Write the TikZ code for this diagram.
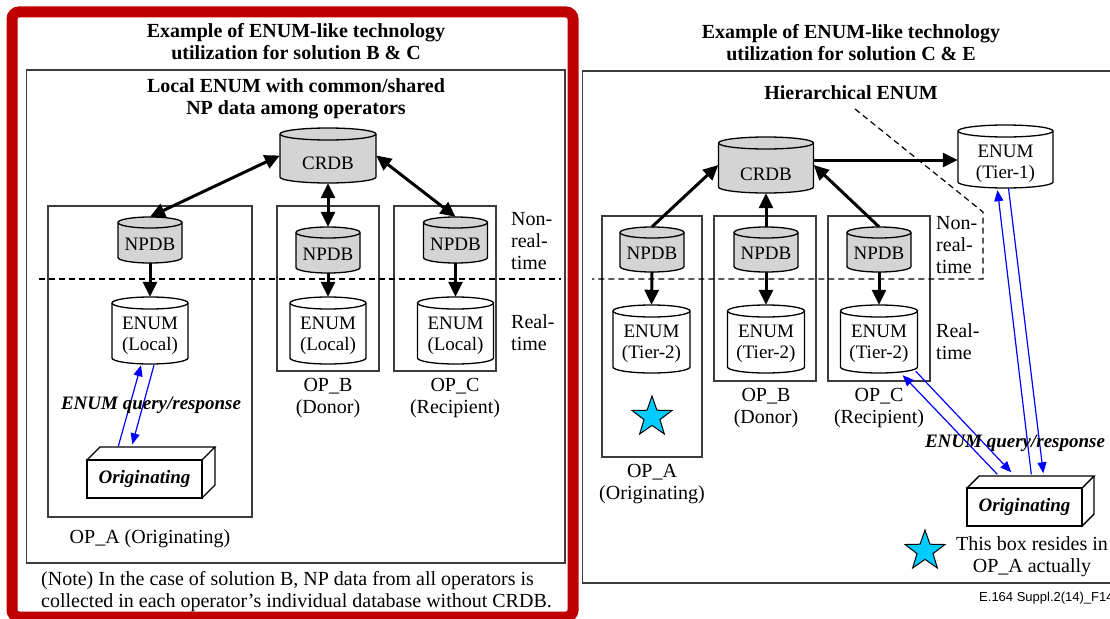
\documentclass[tikz,border=0pt]{standalone}
\usepackage{fontspec}
\setmainfont{Liberation Serif}
\newfontfamily\sansf{Liberation Sans}
\usetikzlibrary{arrows.meta,calc,shapes.geometric}
\definecolor{framered}{RGB}{192,0,0}
\definecolor{dbgray}{RGB}{212,212,212}
\definecolor{starc}{RGB}{0,204,255}
\definecolor{qblue}{RGB}{0,0,255}
\definecolor{boxgray}{RGB}{60,60,60}
\newcommand\fsn{\fontsize{20}{22}\selectfont}
\newcommand\fsc{\fontsize{19}{21}\selectfont}
\newcommand\fst{\fontsize{20}{22}\selectfont\bfseries}
\newcommand\fsq{\fontsize{19}{22}\selectfont\bfseries\itshape}
\newcommand\dbcyl[9]{%
 \pgfmathsetmacro\cL{#2-#4/2}%
 \pgfmathsetmacro\cR{#2+#4/2}%
 \pgfmathsetmacro\cRX{#4/2}%
 \pgfmathsetmacro\cT{#3+#6}%
 \pgfmathsetmacro\cB{#3+#5-#6}%
 \pgfmathsetmacro\cM{#3+#5/2}%
 \pgfmathsetmacro\cTY{#3+#5/2+#9}%
 \draw[cylline,fill=#7] (\cL,\cT) -- (\cL,\cB) arc[start angle=180,end angle=360,x radius=\cRX pt,y radius=#6pt] -- (\cR,\cT) arc[start angle=0,end angle=180,x radius=\cRX pt,y radius=#6pt] -- cycle;
 \draw[cylline] (\cL,\cT) arc[start angle=180,end angle=360,x radius=\cRX pt,y radius=#6pt];
 \node[cylhit,minimum width=#4pt,minimum height=#5pt] (#1) at (#2,\cM) {};
 \node[clbl] (#1t) at (#2,\cTY) {#8};
}
\newcommand\origbox[6]{% name x1 y1 x2 y2 d
 \draw[obox] (#2,#3) -- ({#2+#6},{#3-#6}) -- ({#4+#6},{#3-#6}) -- (#4,#3);
 \draw[obox] ({#4+#6},{#3-#6}) -- ({#4+#6},{#5-#6}) -- (#4,#5);
 \node[obox,draw,minimum width={(#4-#2)*1pt},minimum height={(#5-#3)*1pt},inner sep=0pt,font=\fsq] (#1) at ({(#2+#4)/2},{(#3+#5)/2}) {Originating};
}
\begin{document}
\begin{tikzpicture}[x=1pt,y=-1pt,
  lbl/.style={font=\fsn,align=center,inner sep=0pt},
  clbl/.style={font=\fsc,align=center,inner sep=0pt},
  ttl/.style={font=\fst,align=center,inner sep=0pt},
  qlbl/.style={font=\fsq,inner sep=0pt},
  cylline/.style={draw=black,line width=1.3pt},
  cylhit/.style={rectangle,inner sep=0pt},
  opbox/.style={draw=boxgray,line width=1.3pt},
  obox/.style={draw=black,line width=1.4pt},
  dashln/.style={draw=black,line width=1.2pt,dash pattern=on 6pt off 4pt},
  darr/.style={line width=3pt,-{Triangle[length=15pt,width=14pt]}},
  bidarr/.style={line width=3pt,{Triangle[length=15pt,width=14pt]}-{Triangle[length=15pt,width=14pt]}},
  barr/.style={draw=qblue,line width=1.2pt,-{Triangle[length=11pt,width=9pt]}},
  starn/.style={star,star points=5,star point ratio=2.5,draw=black,line width=1pt,fill=starc,minimum size=42pt,inner sep=0pt}]
\useasboundingbox (0,0) rectangle (1110,618);
\fill[white] (0,0) rectangle (1110,618);
% ================= LEFT PANEL =================
\draw[draw=framered,line width=11pt,rounded corners=7pt] (12,12) rectangle (573,617);
\node[ttl] (ltitle) at (296,42) {Example of ENUM-like technology\\utilization for solution B \& C};
\draw[opbox] (26.5,70) rectangle (565,563);
\node[ttl] (lsub) at (296,99) {Local ENUM with common/shared\\NP data among operators};
\draw[opbox] (48,206) rectangle (252,517);
\draw[opbox] (277,206) rectangle (379,371);
\draw[opbox] (394,206) rectangle (496,371);
\draw[dashln] (39,279) -- (561,279);
\dbcyl{crdbL}{328}{128}{96}{55}{6}{dbgray}{CRDB}{8}
\dbcyl{npdbLA}{150}{217}{64}{46}{5.5}{dbgray}{NPDB}{4}
\dbcyl{npdbLB}{328}{227}{64}{46}{5.5}{dbgray}{NPDB}{4}
\dbcyl{npdbLC}{455.5}{217}{64}{46}{5.5}{dbgray}{NPDB}{4}
\dbcyl{enumLA}{150}{297}{76}{67}{6}{white}{ENUM\\(Local)}{5}
\dbcyl{enumLB}{328}{297}{76}{67}{6}{white}{ENUM\\(Local)}{5}
\dbcyl{enumLC}{455.5}{297}{76}{67}{6}{white}{ENUM\\(Local)}{5}
\draw[bidarr] (crdbL.west) -- (npdbLA.north);
\draw[bidarr] (crdbL.south) -- (npdbLB.north);
\draw[bidarr] (crdbL.east) -- (npdbLC.north);
\draw[darr] (npdbLA.south) -- (enumLA.north);
\draw[darr] (npdbLB.south) -- (enumLB.north);
\draw[darr] (npdbLC.south) -- (enumLC.north);
\node[lbl,align=left,anchor=west] (nrtL) at (511,241) {Non-\\real-\\time};
\node[lbl,align=left,anchor=west] (rtL) at (511,333) {Real-\\time};
\origbox{origA}{87}{460}{202}{498}{13}
\draw[barr] ($(origA.north west)+(32,-13)$) -- ($(enumLA.south)+(-9,1)$);
\draw[barr] ($(enumLA.south)+(4,1)$) -- ($(origA.north west)+(46,-15)$);
\node[qlbl] (qL) at (151,405) {ENUM query/response};
\node[lbl] (opAL) at (150,539) {OP\_A (Originating)};
\node[lbl] (opBL) at (328,398) {OP\_B\\(Donor)};
\node[lbl] (opCL) at (455,398) {OP\_C\\(Recipient)};
\node[lbl,align=left,anchor=west] (note) at (41,592) {(Note) In the case of solution B, NP data from all operators is\\collected in each operator's individual database without CRDB.};
% ================= RIGHT PANEL =================
\node[ttl] (rtitle) at (851,43) {Example of ENUM-like technology\\utilization for solution C \& E};
\draw[opbox] (1125,71) -- (582.5,71) -- (582.5,583) -- (1125,583);
\node[ttl] (rsub) at (851,93) {Hierarchical ENUM};
\draw[opbox] (602,216) rectangle (702,457);
\draw[opbox] (714,216) rectangle (816,381);
\draw[opbox] (828,216) rectangle (930,381);
\draw[dashln] (855,109) -- (983,212) -- (983,279) -- (592,279);
\dbcyl{crdbR}{766}{137}{95}{56}{6}{dbgray}{CRDB}{9}
\dbcyl{tierone}{1005.5}{125}{95}{63}{6}{white}{ENUM\\(Tier-1)}{7}
\dbcyl{npdbRA}{652}{227}{64}{45}{5.5}{dbgray}{NPDB}{4}
\dbcyl{npdbRB}{766}{227}{64}{45}{5.5}{dbgray}{NPDB}{4}
\dbcyl{npdbRC}{879}{227}{64}{45}{5.5}{dbgray}{NPDB}{4}
\dbcyl{enumRA}{651.5}{305}{77}{68}{6}{white}{ENUM\\(Tier-2)}{5}
\dbcyl{enumRB}{766}{305}{77}{68}{6}{white}{ENUM\\(Tier-2)}{5}
\dbcyl{enumRC}{879}{305}{77}{68}{6}{white}{ENUM\\(Tier-2)}{5}
\draw[darr] (npdbRA.north) -- (crdbR.west);
\draw[darr] (npdbRB.north) -- (crdbR.south);
\draw[darr] (npdbRC.north) -- (crdbR.east);
\draw[darr] ([yshift=5pt]crdbR.east) -- ([yshift=5pt]crdbR.east -| tierone.west);
\draw[darr] (npdbRA.south) -- (enumRA.north);
\draw[darr] (npdbRB.south) -- (enumRB.north);
\draw[darr] (npdbRC.south) -- (enumRC.north);
\node[lbl,align=left,anchor=west] (nrtR) at (936,245) {Non-\\real-\\time};
\node[lbl,align=left,anchor=west] (rtR) at (936,342) {Real-\\time};
\node[starn] (star1) at (652,417) {};
\node[lbl] (opAR) at (652,484) {OP\_A\\(Originating)};
\node[lbl] (opBR) at (766,408) {OP\_B\\(Donor)};
\node[lbl] (opCR) at (879,408) {OP\_C\\(Recipient)};
\origbox{origB}{967}{488}{1082}{526}{12}
\draw[barr] ($(origB.north west)+(31,-13)$) -- ($(enumRC.south east)+(-15,2)$);
\draw[barr] ($(enumRC.south east)+(-2,-2)$) -- ($(origB.north west)+(45,-15)$);
\draw[barr] ($(origB.north west)+(65,-13)$) -- ($(tierone.south)+(-8,2)$);
\draw[barr] ($(tierone.south)+(3,0)$) -- ($(origB.north west)+(77,-14)$);
\node[qlbl] (qR) at (1015,443) {ENUM query/response};
\node[starn] (star2) at (925,551) {};
\node[lbl] (resides) at (1032,557) {This box resides in\\OP\_A actually};
\node[font=\sansf\fontsize{13}{15}\selectfont,inner sep=0pt,anchor=west] (figid) at (979,598) {E.164 Suppl.2(14)\_F14};
\end{tikzpicture}
\end{document}
